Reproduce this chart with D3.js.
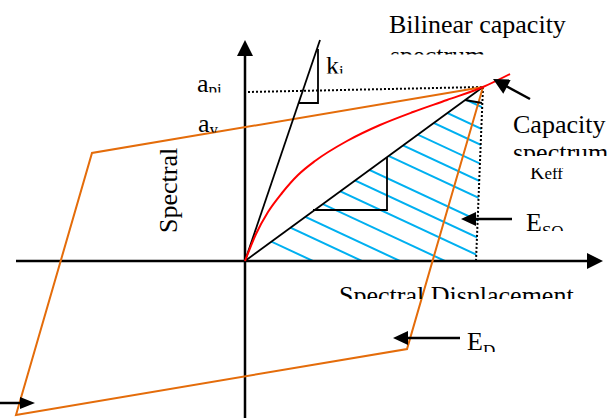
<!DOCTYPE html>
<html>
<head>
<meta charset="utf-8">
<script src="https://cdn.jsdelivr.net/npm/d3@7"></script>
<style>
body { margin: 0; background: #fff; }
svg { display: block; }
text { font-family: "Liberation Serif", "Times New Roman", serif; fill: #000; }
</style>
</head>
<body>
<svg id="chart" width="608" height="418"></svg>
<script>
// all values in spectral displacement / acceleration units, origin at (0,0)
let peak = [238, 174];
let hysteresisLoop = [[238, 174], [162, -88], [-229, -154], [-153, 108], [238, 174]];
let capacityCurve = [[0, 0], [11, 27], [23, 49], [37, 68], [53, 86], [70, 100], [102, 120],
    [135, 136], [168, 149], [202, 161], [238, 174], [265, 187]];
let initialStiffness = [[0, 0], [75, 221]];
let kiTriangle = [[73, 212], [73, 158], [54, 158]];
let secantLine = [[0, 0], peak];
let keffTriangle = [[68, 51], [142, 51], [142, 104]];
let peakTick = [[220, 161], [237, 158]];
let dottedVertical = [peak, [231, 0]];
let dottedHorizontal = [[3, 169], peak];
let hatchCrossings = [68, 117, 155, 200, 245, 283, 320, 369, 406, 444, 485, 520, 567];
let hatchSlope = 0.466;

let svg = d3.select("#chart");
let width = +svg.attr("width");
let height = +svg.attr("height");

let x = d3.scaleLinear().domain([-245, 363]).range([0, width]);
let y = d3.scaleLinear().domain([-157, 261]).range([height, 0]);

let line = d3.line().x(d => x(d[0])).y(d => y(d[1]));
let curve = d3.line().x(d => x(d[0])).y(d => y(d[1])).curve(d3.curveMonotoneX);

// hatched triangle under the secant line
let hatchArea = [[0, 0], peak, dottedVertical[1]];
svg.append("clipPath").attr("id", "hatchClip")
    .append("path").attr("d", line(hatchArea) + "Z");

svg.append("g").attr("clip-path", "url(#hatchClip)")
    .selectAll("line")
    .data(hatchCrossings)
    .enter()
    .append("line")
    .attr("x1", c => x(c - 450))
    .attr("y1", c => y(hatchSlope * 450))
    .attr("x2", c => x(c + 20))
    .attr("y2", c => y(-hatchSlope * 20))
    .attr("stroke", "#00b0f0")
    .attr("stroke-width", 2);

// axes
function arrowHead(tip, dir, len, half) {
    // dir is a unit vector pointing towards the tip, in pixels
    let bx = tip[0] - dir[0] * len, by = tip[1] - dir[1] * len;
    let nx = -dir[1] * half, ny = dir[0] * half;
    svg.append("path")
        .attr("d", "M" + tip[0] + "," + tip[1] + "L" + (bx + nx) + "," + (by + ny) + "L" + (bx - nx) + "," + (by - ny) + "Z")
        .attr("fill", "#000");
}
function arrow(from, to, len, half) {
    let p0 = [x(from[0]), y(from[1])], p1 = [x(to[0]), y(to[1])];
    let dx = p1[0] - p0[0], dy = p1[1] - p0[1];
    let L = Math.sqrt(dx * dx + dy * dy);
    let dir = [dx / L, dy / L];
    svg.append("line")
        .attr("x1", p0[0]).attr("y1", p0[1])
        .attr("x2", p1[0] - dir[0] * len * 0.6).attr("y2", p1[1] - dir[1] * len * 0.6)
        .attr("stroke", "#000").attr("stroke-width", 2.5);
    arrowHead(p1, dir, len, half);
}

arrow([-229, 0], [358, 0], 16, 8);
svg.append("line")
    .attr("x1", x(0)).attr("y1", y(-160))
    .attr("x2", x(0)).attr("y2", y(210))
    .attr("stroke", "#000").attr("stroke-width", 2.5);
arrowHead([x(0), y(221)], [0, -1], 16, 8);

// dotted guides
[dottedVertical, dottedHorizontal].forEach(d => {
    svg.append("path").attr("d", line(d))
        .attr("fill", "none").attr("stroke", "#000")
        .attr("stroke-width", 2).attr("stroke-dasharray", "2,2");
});

// hysteresis loop
svg.append("path").attr("d", line(hysteresisLoop))
    .attr("fill", "none").attr("stroke", "#e46c0a").attr("stroke-width", 2)
    .attr("stroke-linejoin", "miter");

// stiffness lines
[initialStiffness, secantLine].forEach(d => {
    svg.append("path").attr("d", line(d))
        .attr("fill", "none").attr("stroke", "#000").attr("stroke-width", 1.8);
});
[kiTriangle, keffTriangle, peakTick].forEach(d => {
    svg.append("path").attr("d", line(d))
        .attr("fill", "none").attr("stroke", "#000").attr("stroke-width", 1.8);
});

// capacity spectrum
svg.append("path").attr("d", curve(capacityCurve))
    .attr("fill", "none").attr("stroke", "#ff0000").attr("stroke-width", 2);

// annotation arrows
arrow([285, 162], [248, 182], 16, 8);
arrow([267, 42], [216, 42], 15, 7);
arrow([215, -77], [148, -77], 15, 7);
arrow([-245, -142], [-210, -142], 15, 6);

// labels (some are cut by their text boxes, as in the source figure)
let clipId = 0;
function label(px, py, parts, clipTop, clipBottom, rotate) {
    let g = svg.append("g");
    if (clipTop != null || clipBottom != null) {
        let id = "lab" + (clipId++);
        let top = clipTop == null ? 0 : clipTop;
        let bottom = clipBottom == null ? height : clipBottom;
        svg.append("clipPath").attr("id", id)
            .append("rect").attr("x", 0).attr("y", top).attr("width", width).attr("height", bottom - top);
        g.attr("clip-path", "url(#" + id + ")");
    }
    let t = g.append("text").attr("x", px).attr("y", py);
    if (rotate) t.attr("transform", "rotate(" + rotate + "," + px + "," + py + ")");
    parts.forEach(p => {
        t.append("tspan").text(p[0]).style("font-size", p[1] + "px").attr("dy", p[2] || 0);
    });
}

label(389, 33, [["Bilinear capacity", 26]]);
label(390, 64, [["spectrum", 26]], null, 54.5);
label(513, 133, [["Capacity", 26]]);
label(513, 160.5, [["spectrum", 26]], null, 156);
label(530, 179, [["K", 20], ["eff", 17]], 168, null);
label(526, 231, [["E", 26], ["SO", 17, 6]], null, 231);
label(467, 350, [["E", 26], ["D", 17, 6]], null, 352);
label(339, 304, [["Spectral Displacement", 26]], null, 299);
label(177, 233, [["Spectral", 26]], null, null, -90);
label(197, 92, [["a", 26], ["pi", 17, 3]], null, 92.5);
label(198, 132, [["a", 26], ["y", 17, 3]], null, 132.5);
label(326, 73.5, [["k", 26], ["i", 17, 3]], null, 73.5);
</script>
</body>
</html>
